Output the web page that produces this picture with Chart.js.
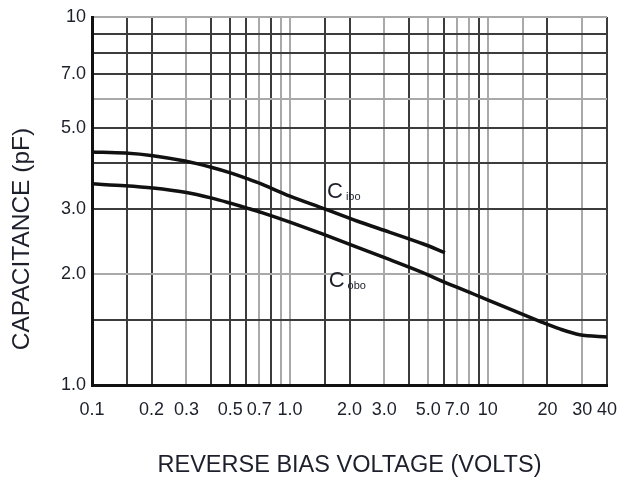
<!DOCTYPE html>
<html>
<head>
<meta charset="utf-8">
<script src="https://cdn.jsdelivr.net/npm/chart.js@4.4.1/dist/chart.umd.min.js"></script>
<style>
  html, body { margin: 0; padding: 0; background: #fff; }
  canvas { display: block; }
</style>
</head>
<body>
<canvas id="chart" width="619" height="482"></canvas>
<script>
// reverse bias (V) vs capacitance (pF)
const CIBO_V = [0.1, 0.147, 0.203, 0.295, 0.404, 0.51, 0.614, 0.706, 1.0, 1.47, 2.18, 3.2, 4.69, 6.07];
const CIBO_C = [4.30, 4.27, 4.20, 4.06, 3.90, 3.76, 3.63, 3.53, 3.26, 3.02, 2.79, 2.60, 2.42, 2.29];

const COBO_V = [0.1, 0.147, 0.203, 0.295, 0.404, 0.51, 0.614, 0.722, 1.0, 1.47, 2.18, 3.2, 4.69, 6.07, 8.4, 12.5, 18.3, 23.1, 29.1, 40];
const COBO_C = [3.52, 3.48, 3.43, 3.34, 3.22, 3.11, 3.02, 2.94, 2.77, 2.57, 2.37, 2.19, 2.02, 1.90, 1.77, 1.62, 1.49, 1.42, 1.37, 1.35];

const X_GRID   = [0.1, 0.15, 0.2, 0.3, 0.4, 0.5, 0.6, 0.7, 0.8, 0.9, 1, 1.5, 2, 3, 4, 5, 6, 7, 8, 9, 10, 15, 20, 30, 40];
const X_LABELS = [0.1, 0.2, 0.3, 0.5, 0.7, 1, 2, 3, 5, 7, 10, 20, 30, 40];
const Y_GRID   = [1, 1.5, 2, 3, 4, 5, 6, 7, 8, 9, 10];
const Y_LABELS = [1, 2, 3, 5, 7, 10];

const SERIES_NAMES = ['ibo', 'obo'];
const NAME_AT_V = [1.54, 1.57];
const NAME_AT_C = [3.22, 1.85];

const INK = '#1d1f2b';
const DARK_X = new Set([0.15, 0.2, 0.4, 0.5, 0.6, 0.8, 1.5, 2, 4, 6, 9, 20, 40]);
const DARK_Y = new Set([4, 5, 7, 8, 9, 3, 1.5]);

const fmt = v => (v < 10 ? v.toFixed(1) : String(v));
const points = (xs, ys) => xs.map((x, i) => ({ x, y: ys[i] }));

const textPlugin = {
  id: 'textPlugin',
  afterDraw(chart) {
    const { ctx, scales: { x, y }, chartArea } = chart;
    ctx.save();
    ctx.fillStyle = INK;

    // axis titles
    ctx.textAlign = 'center';
    ctx.textBaseline = 'middle';
    ctx.font = '23.5px "Liberation Sans", Arial, sans-serif';
    ctx.fillText('REVERSE BIAS VOLTAGE (VOLTS)', (chartArea.left + chartArea.right) / 2, 466);
    ctx.translate(22, 239);
    ctx.rotate(-Math.PI / 2);
    ctx.font = '24.5px "Liberation Sans", Arial, sans-serif';
    ctx.fillText('CAPACITANCE (pF)', 0, 0);
    ctx.setTransform(1, 0, 0, 1, 0, 0);

    // curve names
    SERIES_NAMES.forEach((name, i) => {
      const px = x.getPixelForValue(NAME_AT_V[i]);
      const py = y.getPixelForValue(NAME_AT_C[i]);
      ctx.textAlign = 'left';
      ctx.textBaseline = 'alphabetic';
      ctx.font = '22px "Liberation Sans Narrow", "Liberation Sans", sans-serif';
      ctx.fillText('C', px, py);
      const w = ctx.measureText('C').width;
      ctx.font = '11px "Liberation Sans", sans-serif';
      ctx.fillText(name, px + w + 3, py + 2);
    });
    ctx.restore();
  }
};

new Chart(document.getElementById('chart'), {
  type: 'scatter',
  data: {
    datasets: [
      { label: 'Cibo', data: points(CIBO_V, CIBO_C) },
      { label: 'Cobo', data: points(COBO_V, COBO_C) },
    ]
  },
  options: {
    responsive: false,
    animation: false,
    layout: { padding: { top: 17, right: 12, left: 0, bottom: 0 } },
    elements: {
      point: { radius: 0 },
      line: { borderColor: '#111', borderWidth: 3.5, tension: 0.3 }
    },
    datasets: { scatter: { showLine: true, borderColor: '#111', backgroundColor: '#111' } },
    plugins: {
      legend: { display: false },
      tooltip: { enabled: false }
    },
    scales: {
      x: {
        type: 'logarithmic',
        min: 0.1,
        max: 40,
        afterBuildTicks: s => { s.ticks = X_GRID.map(v => ({ value: v })); },
        afterFit: s => { s.height = 97; s.paddingLeft = 0; s.paddingRight = 0; },
        ticks: {
          autoSkip: false,
          maxRotation: 0,
          padding: 14,
          color: INK,
          font: { family: '"Liberation Sans", Arial, sans-serif', size: 18 },
          callback: v => (X_LABELS.includes(v) ? fmt(v) : '')
        },
        grid: {
          drawTicks: false,
          lineWidth: 2,
          color: c => (DARK_X.has(c.tick && c.tick.value) ? '#3c3c3c' : '#a9a9a9')
        },
        border: { color: '#111', width: 3 }
      },
      y: {
        type: 'logarithmic',
        min: 1,
        max: 10,
        afterBuildTicks: s => { s.ticks = Y_GRID.map(v => ({ value: v })); },
        afterFit: s => { s.width = 92; s.paddingTop = 0; s.paddingBottom = 0; },
        ticks: {
          autoSkip: false,
          padding: 6,
          color: INK,
          font: { family: '"Liberation Sans", Arial, sans-serif', size: 18 },
          callback: v => (Y_LABELS.includes(v) ? fmt(v) : '')
        },
        grid: {
          drawTicks: false,
          lineWidth: 2,
          color: c => (DARK_Y.has(c.tick && c.tick.value) ? '#3c3c3c' : '#a9a9a9')
        },
        border: { color: '#111', width: 3 }
      }
    }
  },
  plugins: [textPlugin]
});
</script>
</body>
</html>
